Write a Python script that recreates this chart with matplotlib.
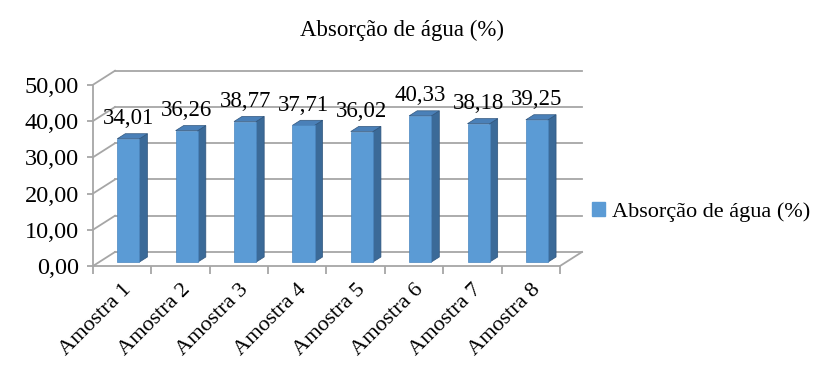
import matplotlib.pyplot as plt
from matplotlib.patches import Polygon, Patch

plt.rcParams['font.family'] = ['Liberation Serif', 'DejaVu Serif']

amostras = ["Amostra 1", "Amostra 2", "Amostra 3", "Amostra 4",
            "Amostra 5", "Amostra 6", "Amostra 7", "Amostra 8"]
absorcao = [34.01, 36.26, 38.77, 37.71, 36.02, 40.33, 38.18, 39.25]
y_ticks = [0, 10, 20, 30, 40, 50]
serie = "Absorção de água (%)"

# fake 3d geometry (category units / value units)
dxb, dyb = 0.377, 3.87      # depth of the back wall
f = 0.28                    # depth of bar front face
bw = 0.38                   # bar width
sdx, sdy = 0.137, 1.4       # bar side depth

front = '#5b9bd5'
side = '#3b6a98'
top = '#4a80b8'
grid = '#a6a6a6'

fig = plt.figure(figsize=(8.16, 3.72), dpi=100)
ax = fig.add_axes([93/816, 1-266/372, 489/816, 196/372])
ax.set_xlim(0, 8 + dxb)
ax.set_ylim(0, 50 + dyb + 0.2)

# walls
for v in y_ticks:
    ax.plot([dxb, 8 + dxb], [v + dyb, v + dyb], color=grid, lw=1.3, clip_on=False)
    ax.plot([0, dxb], [v, v + dyb], color=grid, lw=1.3, clip_on=False)
ax.plot([8, 8 + dxb], [0, dyb], color=grid, lw=1.3, clip_on=False)

# bars
n = len(absorcao)
for i, v in enumerate(absorcao):
    x0 = i + 0.5 + f * dxb - bw / 2
    y0 = f * dyb
    x1 = x0 + bw
    y1 = y0 + v
    ax.add_patch(Polygon([[x1, y0], [x1 + sdx, y0 + sdy], [x1 + sdx, y1 + sdy], [x1, y1]],
                         closed=True, fc=side, ec='#2f557d', lw=0.5, zorder=3))
    ax.add_patch(Polygon([[x0, y1], [x1, y1], [x1 + sdx, y1 + sdy], [x0 + sdx, y1 + sdy]],
                         closed=True, fc=top, ec='#2f557d', lw=0.5, zorder=3))
    ax.bar(x0, v, width=bw, bottom=y0, align='edge', color=front,
           edgecolor='#4a86c0', linewidth=0.5, zorder=4)
    ax.text(x0 + bw / 2, y1 + 5.6, f"{v:.2f}".replace('.', ','),
            ha='center', va='center', fontsize=16.5, zorder=5, clip_on=False)

# axes
for s in ['top', 'right']:
    ax.spines[s].set_visible(False)
ax.spines['left'].set_bounds(0, 50)
ax.spines['bottom'].set_bounds(0, 8)
ax.spines['left'].set_color(grid)
ax.spines['bottom'].set_color(grid)
ax.spines['left'].set_linewidth(1.3)
ax.spines['bottom'].set_linewidth(1.3)

ax.set_yticks(y_ticks)
ax.set_yticklabels([f"{t:.2f}".replace('.', ',') for t in y_ticks], fontsize=17.5)
ax.tick_params(axis='y', length=4, color=grid, width=1.3, pad=6)

ax.set_xticks([i + 0.5 for i in range(n)])
ax.set_xticklabels(amostras, rotation=45, ha='right', rotation_mode='anchor', fontsize=16)
ax.set_xticks(range(n + 1), minor=True)
ax.tick_params(axis='x', which='major', length=0, pad=10)
ax.tick_params(axis='x', which='minor', length=6, color=grid, width=1.3)

fig.text(402/816, 1 - 30/372, serie, ha='center', va='center', fontsize=16.5)
fig.legend(handles=[Patch(color=front, label=serie)], loc='center left',
           bbox_to_anchor=(572/816, 1 - 212/372), frameon=False, fontsize=16,
           handlelength=0.6, handleheight=0.6, handletextpad=0.3)

fig.savefig('out.png', dpi=100)
